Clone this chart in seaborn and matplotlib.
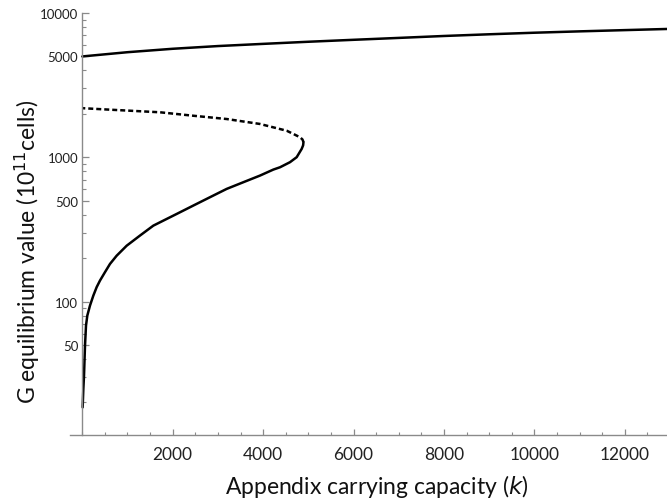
import numpy as np
import pandas as pd
import matplotlib
matplotlib.use("Agg")
import matplotlib.pyplot as plt
import matplotlib.ticker as mticker
import seaborn as sns

# ---- data ----
upper_k = [0, 1000, 2000, 3000, 4000, 5000, 6000, 7000, 8000, 9000, 10000, 11000, 12000, 12935]
upper_G = [5000, 5350, 5650, 5900, 6110, 6320, 6520, 6720, 6930, 7120, 7300, 7460, 7610, 7750]

middle_k = [4893, 4870, 4816, 4668, 4522, 3931, 3194, 2456, 1719, 613, 0]
middle_G = [1275, 1330, 1377, 1452, 1528, 1702, 1842, 1941, 2051, 2138, 2190]

lower_k = [4893, 4885, 4853, 4743, 4595, 4374, 4226, 3931, 3563, 3194, 2825, 2456, 2088,
           1867, 1571, 1277, 982, 760, 613, 502, 392, 318, 244, 170, 111, 82, 60, 38, 23, 8]
lower_G = [1275, 1210, 1143, 1002, 925, 853, 822, 747, 672, 604, 529, 463, 405,
           374, 336, 287, 244, 208, 182.5, 160, 140, 126, 110, 93.8, 80, 68.2, 49.6, 30.7, 24.8, 18.5]

y_major = [50, 100, 500, 1000, 5000, 10000]
x_major = [2000, 4000, 6000, 8000, 10000, 12000]

sns.set_style("white")
plt.rcParams["font.family"] = ["Lato", "DejaVu Sans"]

fig = plt.figure(figsize=(6.67, 5.02), dpi=100)
ax = fig.add_axes([70 / 667, 66 / 502, (667 - 70) / 667, (436 - 14) / 502])

df_up = pd.DataFrame({"k": upper_k, "G": upper_G})
df_mid = pd.DataFrame({"k": middle_k, "G": middle_G})
df_low = pd.DataFrame({"k": lower_k, "G": lower_G})

sns.lineplot(data=df_up, x="k", y="G", sort=False, estimator=None, color="black", lw=1.8, ax=ax)
sns.lineplot(data=df_low, x="k", y="G", sort=False, estimator=None, color="black", lw=1.8, ax=ax)
sns.lineplot(data=df_mid, x="k", y="G", sort=False, estimator=None, color="black", lw=1.8,
             ax=ax, linestyle=(0, (2.0, 1.2)))

ax.set_yscale("log")
ax.set_xlim(-272, 12935)
ax.set_ylim(11.9, 10000)

ax.yaxis.set_major_locator(mticker.FixedLocator(y_major))
ax.yaxis.set_major_formatter(mticker.FixedFormatter([str(v) for v in y_major]))
ax.yaxis.set_minor_locator(mticker.LogLocator(base=10, subs=np.arange(2, 10), numticks=20))
ax.yaxis.set_minor_formatter(mticker.NullFormatter())

ax.xaxis.set_major_locator(mticker.FixedLocator(x_major))
ax.xaxis.set_major_formatter(mticker.FixedFormatter([str(v) for v in x_major]))
ax.xaxis.set_minor_locator(mticker.MultipleLocator(500))

for s in ["top", "right"]:
    ax.spines[s].set_visible(False)
ax.spines["left"].set_position(("data", 0))
for s in ["left", "bottom"]:
    ax.spines[s].set_color("#8a8a8a")
    ax.spines[s].set_linewidth(1.0)

ax.tick_params(axis="both", which="both", direction="in", color="#8a8a8a")
ax.tick_params(axis="y", which="major", length=5, width=0.9, labelsize=9.5, pad=3, labelcolor="#222222")
ax.tick_params(axis="y", which="minor", length=3, width=0.8)
ax.tick_params(axis="x", which="major", length=4, width=0.9, labelsize=12.5, pad=8, labelcolor="#222222")
ax.tick_params(axis="x", which="minor", length=2, width=0.8)
ax.tick_params(left=True, bottom=True, which="both")

ax.set_xlabel("")
ax.set_ylabel("")
fig.text(377 / 667, 1 - 487 / 502, "Appendix carrying capacity ($\\it{k}$)", fontsize=16.5,
         ha="center", va="center", color="#111111")
fig.text(27 / 667, 1 - 252 / 502, "G equilibrium value (10$^{11}$cells)", fontsize=16.5,
         ha="center", va="center", rotation=90, color="#111111")
ax.grid(False)

fig.savefig("out.png", dpi=100)
